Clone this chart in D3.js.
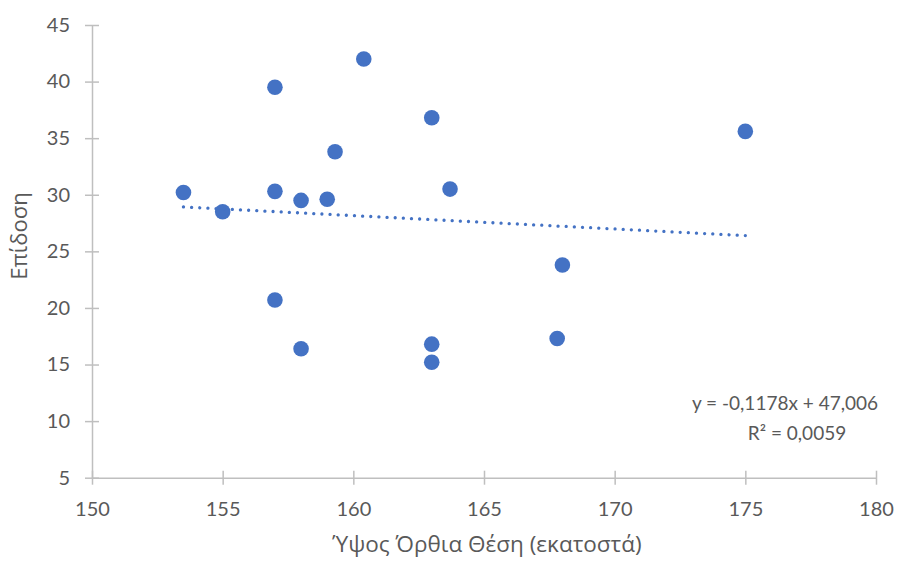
<!DOCTYPE html>
<html>
<head>
<meta charset="utf-8">
<script src="https://cdn.jsdelivr.net/npm/d3@7"></script>
<style>
  html, body { margin: 0; padding: 0; background: #fff; }
  svg { display: block; }
  text { font-family: Lato, "Open Sans", sans-serif; fill: #595959; }
  .title { font-family: "Open Sans", sans-serif; }
</style>
</head>
<body>
<svg id="chart" width="904" height="561"></svg>
<script>
// Height (cm) vs performance
const heights = [153.5, 155, 157, 157, 157, 158, 158, 159, 159.3, 160.4, 163, 163.7, 163, 163, 167.8, 168, 175];
const scores  = [30.2, 28.5, 39.5, 30.3, 20.7, 29.5, 16.4, 29.6, 33.8, 42.0, 36.8, 30.5, 16.8, 15.2, 17.3, 23.8, 35.6];

// Linear trend line coefficients: y = slope * x + intercept
const trendSlope = [-0.1178];
const trendIntercept = [47.006];
const trendRSquared = [0.0059];

const xTicks = [150, 155, 160, 165, 170, 175, 180];
const yTicks = [5, 10, 15, 20, 25, 30, 35, 40, 45];

const xTitle = "Ύψος Όρθια Θέση (εκατοστά)";
const yTitle = "Επίδοση";

const svg = d3.select("#chart");
const plotLeft = 92, plotRight = 876, plotTop = 25, plotBottom = 477.7;

const x = d3.scaleLinear().domain([150, 180]).range([plotLeft, plotRight]);
const y = d3.scaleLinear().domain([5, 45]).range([plotBottom, plotTop]);

const axisColor = "#bfbfbf";
const markColor = "#4472C4";

// Y axis
const yAxis = svg.append("g")
  .attr("transform", `translate(${plotLeft},0)`)
  .call(d3.axisLeft(y).tickValues(yTicks).tickSize(7).tickSizeOuter(0));
yAxis.select(".domain").attr("stroke", axisColor).attr("stroke-width", 1.5);
yAxis.selectAll(".tick line").attr("stroke", axisColor).attr("stroke-width", 1.5).attr("x1", -7).attr("x2", 7);
yAxis.selectAll(".tick text").style("font-size", "20px").attr("fill", "#595959").attr("x", -22);

// X axis
const xAxis = svg.append("g")
  .attr("transform", `translate(0,${plotBottom})`)
  .call(d3.axisBottom(x).tickValues(xTicks).tickSize(7).tickSizeOuter(0));
xAxis.select(".domain").attr("stroke", axisColor).attr("stroke-width", 1.5);
xAxis.selectAll(".tick line").attr("stroke", axisColor).attr("stroke-width", 1.5).attr("y1", -7).attr("y2", 7);
xAxis.selectAll(".tick text").style("font-size", "20px").attr("fill", "#595959").attr("y", 24);

// Points
svg.append("g").selectAll("circle")
  .data(heights.map((h, i) => [h, scores[i]]))
  .join("circle")
  .attr("cx", d => x(d[0]))
  .attr("cy", d => y(d[1]))
  .attr("r", 7.8)
  .attr("fill", markColor);

// Trend line across the data range, dotted so a dot lands on each end
const xExtent = d3.extent(heights);
const trendPts = xExtent.map(v => [v, trendSlope[0] * v + trendIntercept[0]]);
const trendPath = svg.append("path")
  .datum(trendPts)
  .attr("d", d3.line().x(d => x(d[0])).y(d => y(d[1])))
  .attr("fill", "none")
  .attr("stroke", markColor)
  .attr("stroke-width", 3.3)
  .attr("stroke-linecap", "round");
const trendLen = trendPath.node().getTotalLength();
const gap = trendLen / Math.round(trendLen / 8.2);
trendPath.attr("stroke-dasharray", `0.01 ${gap - 0.01}`);

// Trend equation
const fmt = v => String(v).replace(".", ",");
svg.append("text")
  .attr("x", 785).attr("y", 410)
  .attr("text-anchor", "middle")
  .style("font-size", "19px")
  .text(`y = ${fmt(trendSlope[0])}x + ${fmt(trendIntercept[0])}`);
svg.append("text")
  .attr("x", 797).attr("y", 440)
  .attr("text-anchor", "middle")
  .style("font-size", "19px")
  .text(`R² = ${fmt(trendRSquared[0])}`);

// Axis titles
svg.append("text")
  .attr("class", "title")
  .attr("x", 487).attr("y", 552)
  .attr("text-anchor", "middle")
  .style("font-size", "22.5px")
  .text(xTitle);
svg.append("text")
  .attr("class", "title")
  .attr("transform", "translate(27,236) rotate(-90)")
  .attr("text-anchor", "middle")
  .style("font-size", "22px")
  .text(yTitle);
</script>
</body>
</html>
